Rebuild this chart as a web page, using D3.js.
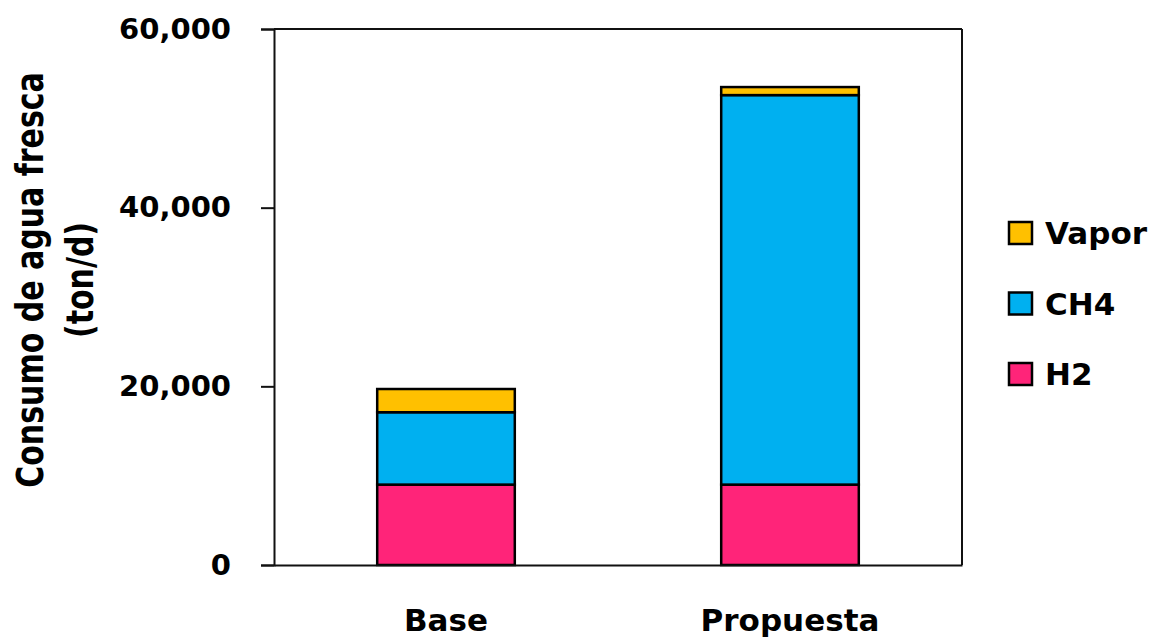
<!DOCTYPE html>
<html>
<head>
<meta charset="utf-8">
<script src="https://cdn.jsdelivr.net/npm/d3@7"></script>
<style>
  html, body { margin: 0; padding: 0; background: #fff; }
  svg { display: block; }
  text { font-family: "DejaVu Sans", sans-serif; font-weight: bold; fill: #000; }
</style>
</head>
<body>
<svg id="chart" width="1156" height="638"></svg>
<script>
// Fresh water consumption (ton/d) by scenario, stacked by source
const categories = ["Base", "Propuesta"];
const seriesNames = ["H2", "CH4", "Vapor"];
const h2Values = [9000, 9000];
const ch4Values = [8100, 43600];
const vaporValues = [2600, 900];
const yTicks = [0, 20000, 40000, 60000];
const legendOrder = ["Vapor", "CH4", "H2"];

const colors = { H2: "#FF2479", CH4: "#00B0F0", Vapor: "#FFC000" };

const rows = categories.map((c, i) => ({
  category: c, H2: h2Values[i], CH4: ch4Values[i], Vapor: vaporValues[i]
}));

const svg = d3.select("#chart");
const plot = { left: 274, right: 962, top: 29, bottom: 565 };

const x = d3.scaleBand()
  .domain(categories)
  .range([plot.left, plot.right])
  .paddingInner(0.6)
  .paddingOuter(0.3);

const y = d3.scaleLinear()
  .domain([0, 60000])
  .range([plot.bottom, plot.top]);

const stack = d3.stack().keys(seriesNames);
const layers = stack(rows);

// Frame lines on the top and right side of the plot area
svg.append("line")
  .attr("x1", plot.left).attr("x2", plot.right)
  .attr("y1", plot.top).attr("y2", plot.top)
  .attr("stroke", "#111").attr("stroke-width", 2);
svg.append("line")
  .attr("x1", plot.right).attr("x2", plot.right)
  .attr("y1", plot.top).attr("y2", plot.bottom)
  .attr("stroke", "#111").attr("stroke-width", 2);

// Stacked bars
svg.append("g")
  .selectAll("g")
  .data(layers)
  .join("g")
  .attr("fill", d => colors[d.key])
  .selectAll("rect")
  .data(d => d)
  .join("rect")
  .attr("x", d => x(d.data.category))
  .attr("width", x.bandwidth())
  .attr("y", d => y(d[1]))
  .attr("height", d => y(d[0]) - y(d[1]))
  .attr("stroke", "#000")
  .attr("stroke-width", 2.5);

// Y axis
const yAxis = svg.append("g")
  .attr("transform", `translate(${plot.left},0)`)
  .call(d3.axisLeft(y)
    .tickValues(yTicks)
    .tickFormat(d3.format(","))
    .tickSize(13)
    .tickPadding(30));
yAxis.selectAll("path, line").attr("stroke", "#111").attr("stroke-width", 2);
yAxis.selectAll("text")
  .style("font-family", "'DejaVu Sans', sans-serif")
  .style("font-weight", "bold")
  .attr("font-size", 29)
  .attr("fill", "#000");

// X axis
const xAxis = svg.append("g")
  .attr("transform", `translate(0,${plot.bottom})`)
  .call(d3.axisBottom(x).tickSize(0).tickPadding(66));
xAxis.select("path").attr("stroke", "#111").attr("stroke-width", 2);
xAxis.selectAll("text")
  .style("font-family", "'DejaVu Sans', sans-serif")
  .style("font-weight", "bold")
  .attr("font-size", 31)
  .attr("dy", 0)
  .attr("fill", "#000");

// Y axis title (two lines, rotated)
const yTitle = svg.append("g")
  .attr("transform", "translate(43,280) scale(1.27,1) rotate(-90)");
yTitle.append("text")
  .attr("text-anchor", "middle")
  .attr("font-size", 30)
  .attr("y", 0)
  .text("Consumo de agua fresca");
yTitle.append("text")
  .attr("text-anchor", "middle")
  .attr("font-size", 30)
  .attr("y", 39.5)
  .text("(ton/d)");

// Legend
const legend = svg.append("g")
  .attr("transform", "translate(1008,233)");
const item = legend.selectAll("g")
  .data(legendOrder)
  .join("g")
  .attr("transform", (d, i) => `translate(0,${i * 70.5})`);
item.append("rect")
  .attr("x", 1).attr("y", -11)
  .attr("width", 23).attr("height", 22)
  .attr("fill", d => colors[d])
  .attr("stroke", "#000")
  .attr("stroke-width", 2.5);
item.append("text")
  .attr("x", 37)
  .attr("y", 11)
  .attr("font-size", 31)
  .text(d => d);
</script>
</body>
</html>
